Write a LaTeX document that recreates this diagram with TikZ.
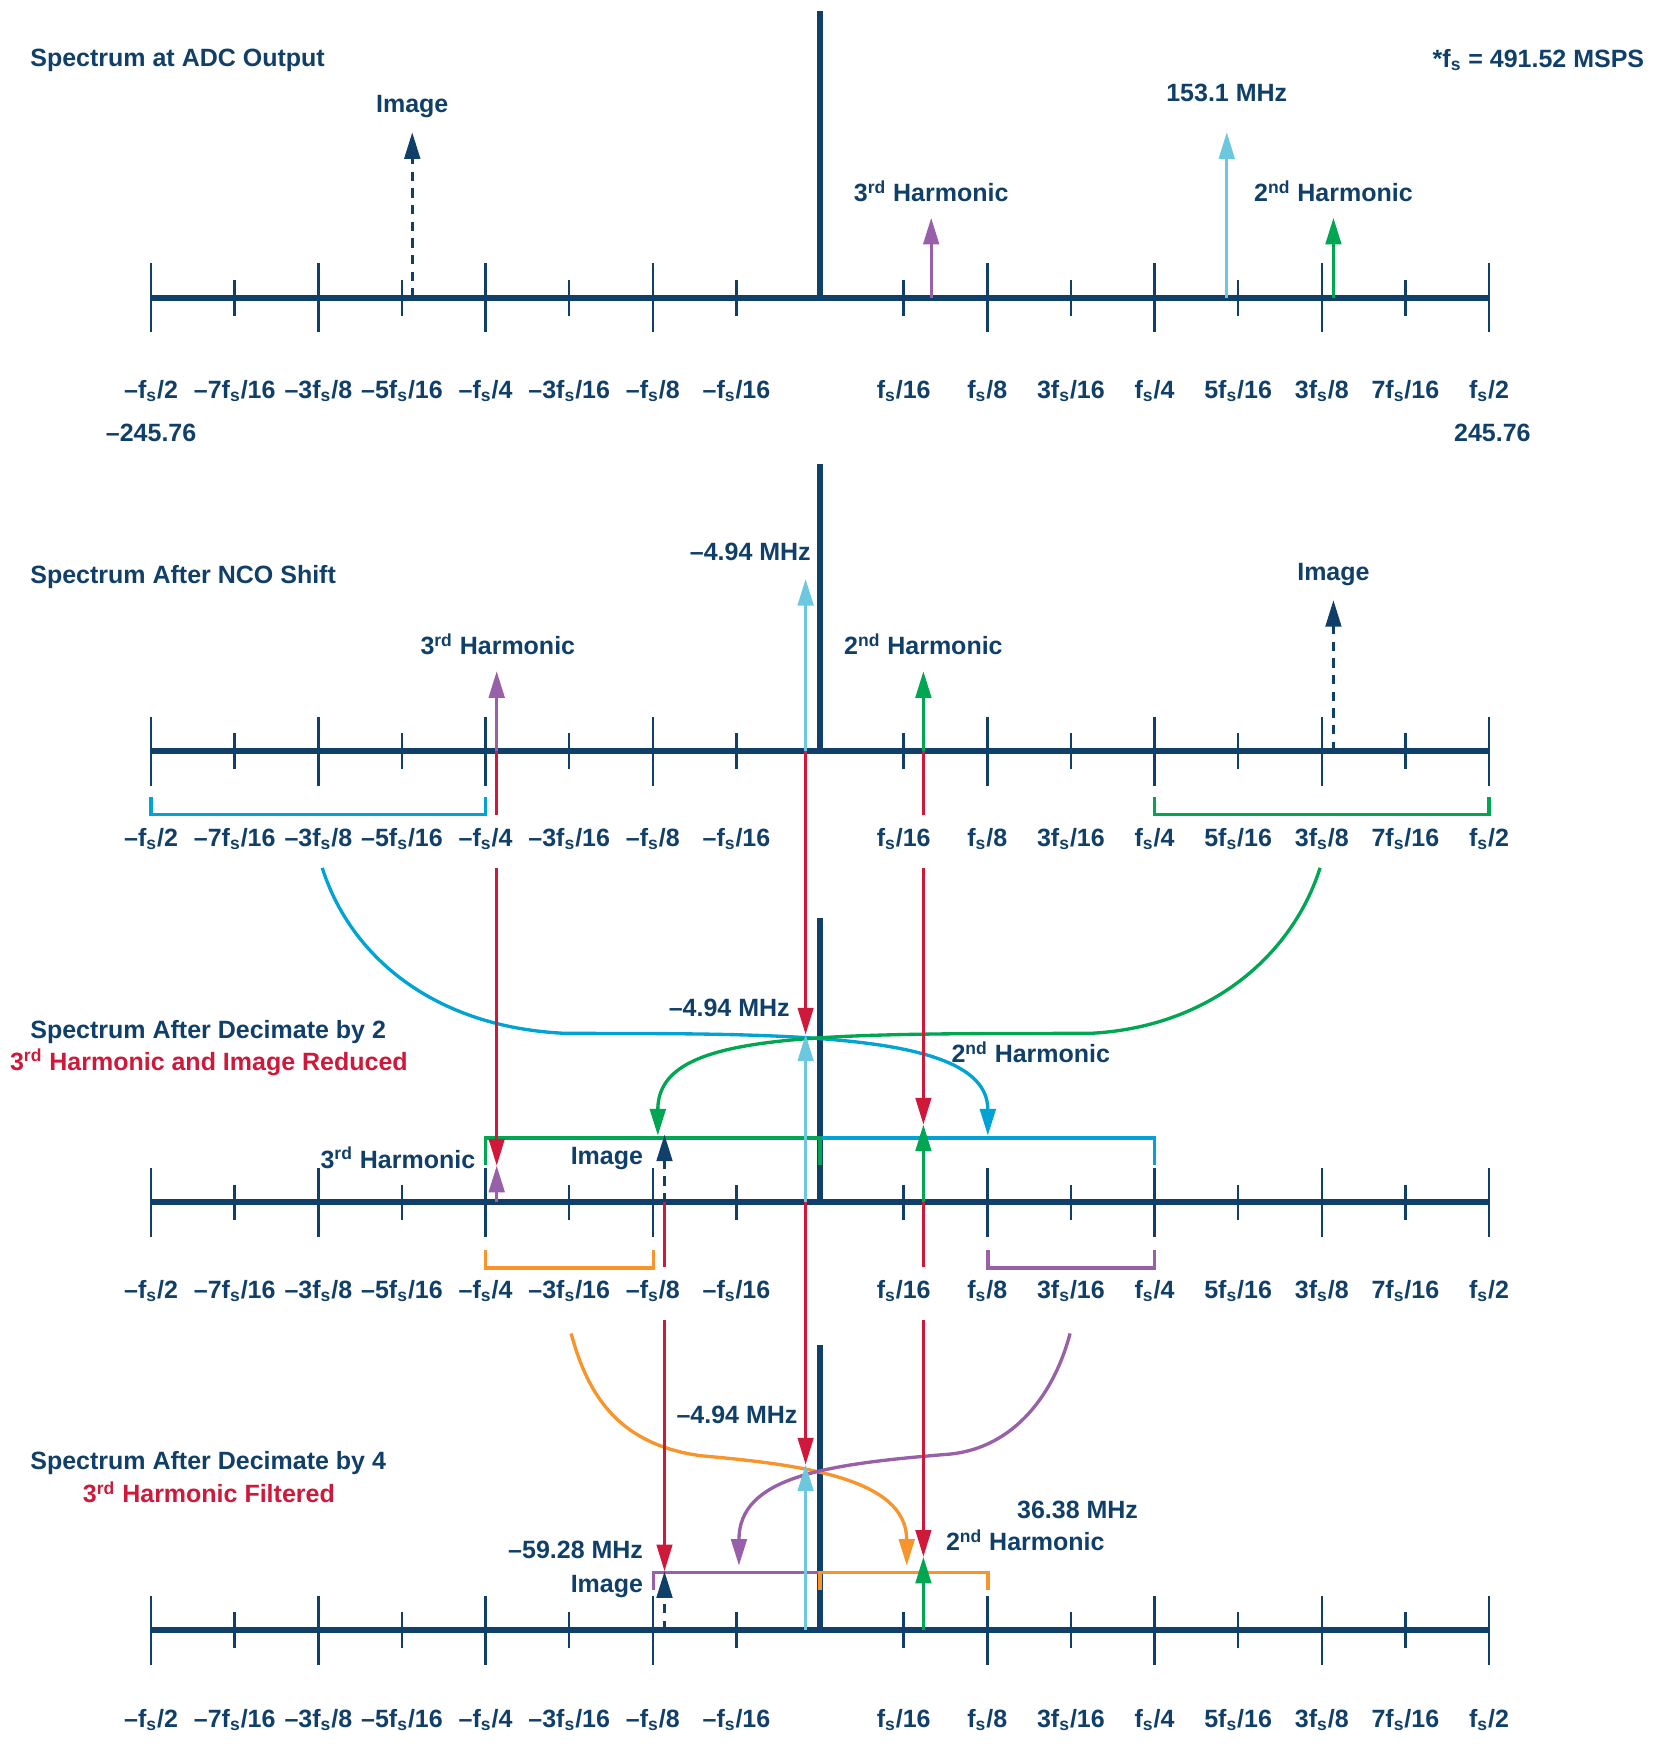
\documentclass[tikz,border=0pt]{standalone}
\usepackage{fontspec}
\setmainfont{Liberation Sans}
\usetikzlibrary{arrows.meta}

\definecolor{adiblau}{RGB}{16,63,105}
\definecolor{hlila}{RGB}{152,96,168}
\definecolor{hellblau}{RGB}{107,200,222}
\definecolor{hgruen}{RGB}{0,166,81}
\definecolor{hrot}{RGB}{206,25,59}
\definecolor{tuerkis}{RGB}{0,163,212}
\definecolor{horange}{RGB}{247,148,43}

\newcommand{\fsl}{f\textsubscript{s}}

\tikzset{
  txt/.style={inner sep=0pt, text=adiblau, font=\fontsize{12.8}{15}\selectfont\bfseries},
  rottxt/.style={txt, text=hrot},
  achse/.style={draw=adiblau, line width=1.1mm},
  mittellinie/.style={draw=adiblau, line width=0.95mm},
  teilstrich/.style={draw=adiblau, line width=0.45mm},
  pfeil/.style={line width=0.58mm, -{Triangle[length=4.8mm, width=2.8mm]}},
  rotlinie/.style={draw=hrot, line width=0.48mm},
  rotpfeil/.style={rotlinie, -{Triangle[length=4.8mm, width=2.8mm]}},
  gestrichelt/.style={dash pattern=on 1.7mm off 1.3mm},
  klammer/.style={line width=0.6mm},
  bogen/.style={line width=0.6mm, -{Triangle[length=4.8mm, width=2.8mm]}},
}

\begin{document}
\begin{tikzpicture}[x=0.2mm, y=-0.2mm]
    \useasboundingbox (0,0) rectangle (1500,1574);

    % Achsen, Teilstriche und Beschriftung der vier Spektren
    \foreach \p/\y/\ly/\oben in {1/268/352/10, 2/676/755/418, 3/1082/1162/826, 4/1467/1548/1210} {
        \draw[mittellinie] (738,\oben) -- (738,\y);
        \foreach \k in {-8,...,-1,1,2,...,8} {
            \pgfmathsetmacro{\xk}{738+75.25*\k}
            \pgfmathsetmacro{\hoehe}{mod(abs(\k),2)==1 ? 16 : 31}
            \draw[teilstrich] (\xk,\y-\hoehe) -- (\xk,\y+\hoehe);
        }
        \draw[achse] (136,\y) -- (1340,\y);
        \foreach \k/\lbl in {-8/{–\fsl/2}, -7/{–7\fsl/16}, -6/{–3\fsl/8}, -5/{–5\fsl/16}, -4/{–\fsl/4}, -3/{–3\fsl/16}, -2/{–\fsl/8}, -1/{–\fsl/16}, 1/{\fsl/16}, 2/{\fsl/8}, 3/{3\fsl/16}, 4/{\fsl/4}, 5/{5\fsl/16}, 6/{3\fsl/8}, 7/{7\fsl/16}, 8/{\fsl/2}}
            \node[txt] (lab\p\k) at ({738+75.25*\k},\ly) {\lbl};
    }

    % Klammern der Nyquist-Zonen
    \draw[klammer, tuerkis] (136,717) -- (136,733) -- (437,733) -- (437,717);
    \draw[klammer, hgruen] (1039,717) -- (1039,733) -- (1340,733) -- (1340,717);
    \draw[klammer, tuerkis] (738,1024) -- (1039,1024) -- (1039,1048);
    \draw[klammer, hgruen] (437,1048) -- (437,1024) -- (738,1024) -- (738,1048);
    \draw[klammer, horange] (437,1125) -- (437,1141) -- (588,1141) -- (588,1125);
    \draw[klammer, hlila] (889,1125) -- (889,1141) -- (1039,1141) -- (1039,1125);
    \draw[klammer, hlila] (588,1431) -- (588,1415) -- (738,1415) -- (738,1431);
    \draw[klammer, horange] (738,1431) -- (738,1415) -- (889,1415) -- (889,1431);

    % Spektrum am ADC-Ausgang
    \node[txt, anchor=west] (tit1) at (27,54) {Spectrum at ADC Output};
    \node[txt, anchor=east] (abtast) at (1480,54) {*\fsl{} = 491.52 MSPS};
    \node[txt] (min1) at (136,390) {–245.76};
    \node[txt] (max1) at (1343,390) {245.76};
    \node[txt] (iml1) at (371,96) {Image};
    \node[txt] (h3l1) at (838,172) {3\textsuperscript{rd} Harmonic};
    \node[txt] (mhz1) at (1104,84) {153.1 MHz};
    \node[txt] (h2l1) at (1200,172) {2\textsuperscript{nd} Harmonic};
    \foreach \n/\x/\z/\farbe/\art in {img1/371/119/adiblau/gestrichelt, h31/838/196/hlila/solid, sig1/1104/119/hellblau/solid, h21/1200/196/hgruen/solid} {
        \coordinate (u\n) at (\x,268);
        \coordinate (o\n) at (\x,\z);
        \draw[pfeil, \farbe, \art] (u\n) -- (o\n);
    }

    % Spektrum nach der NCO-Verschiebung
    \node[txt, anchor=west] (tit2) at (27,519) {Spectrum After NCO Shift};
    \node[txt, anchor=east] (mhz2) at (730,497) {–4.94 MHz};
    \node[txt] (h3l2) at (448,580) {3\textsuperscript{rd} Harmonic};
    \node[txt] (h2l2) at (831,580) {2\textsuperscript{nd} Harmonic};
    \node[txt] (iml2) at (1200,517) {Image};
    \foreach \n/\x/\z/\farbe/\art in {img2/1200/540/adiblau/gestrichelt, h32/447/604/hlila/solid, sig2/725/521/hellblau/solid, h22/831/604/hgruen/solid} {
        \coordinate (u\n) at (\x,676);
        \coordinate (o\n) at (\x,\z);
    }

    % Spektrum nach Dezimation um 2
    \node[txt, anchor=west] (tit3) at (27,929) {Spectrum After Decimate by 2};
    \node[rottxt] (sub3) at (188,956) {3\textsuperscript{rd} Harmonic and Image Reduced};
    \node[txt, anchor=east] (mhz3) at (711,907) {–4.94 MHz};
    \node[txt, anchor=east] (h3l3) at (428,1042) {3\textsuperscript{rd} Harmonic};
    \node[txt, anchor=east] (iml3) at (579,1043) {Image};
    \node[txt, anchor=west] (h2l3) at (856,947) {2\textsuperscript{nd} Harmonic};
    \foreach \n/\x/\z in {img3/598/1021, h33/447/1049, sig3/725/931, h23/831/1012} {
        \coordinate (u\n) at (\x,1082);
        \coordinate (o\n) at (\x,\z);
    }

    % Spektrum nach Dezimation um 4
    \node[txt, anchor=west] (tit4) at (27,1317) {Spectrum After Decimate by 4};
    \node[rottxt] (sub4) at (188,1343) {3\textsuperscript{rd} Harmonic Filtered};
    \node[txt, anchor=east] (mhz4) at (718,1273) {–4.94 MHz};
    \node[txt, anchor=east] (mhz4b) at (579,1395) {–59.28 MHz};
    \node[txt, anchor=east] (iml4) at (579,1428) {Image};
    \node[txt, anchor=west] (mhz4c) at (915,1359) {36.38 MHz};
    \node[txt, anchor=west] (h2l4) at (851,1386) {2\textsuperscript{nd} Harmonic};
    \foreach \n/\x/\z in {img4/598/1414, sig4/725/1318, h24/831/1401} {
        \coordinate (u\n) at (\x,1467);
        \coordinate (o\n) at (\x,\z);
    }

    % Faltung der Zonen (Boegen)
    \coordinate (ta) at (290,781); \coordinate (te) at (889,1022);
    \coordinate (ga) at (1188,781); \coordinate (ge) at (592,1022);
    \coordinate (oa) at (514,1200); \coordinate (oe) at (816,1409);
    \coordinate (la) at (963,1200); \coordinate (le) at (665,1409);
    \draw[bogen, tuerkis] (ta) .. controls (315,860) and (390,925) .. (510,930) .. controls (720,930) and (889,930) .. (te);
    \draw[bogen, hgruen] (ga) .. controls (1163,860) and (1088,925) .. (980,930) .. controls (720,930) and (592,930) .. (ge);
    \draw[bogen, horange] (oa) .. controls (530,1260) and (560,1300) .. (630,1310) .. controls (720,1318) and (816,1330) .. (oe);
    \draw[bogen, hlila] (la) .. controls (950,1250) and (915,1305) .. (850,1309) .. controls (740,1318) and (665,1330) .. (le);

    % Rote Linien von Spektrum zu Spektrum
    \coordinate (r1) at (447,733); \coordinate (r2) at (447,781);
    \coordinate (r3) at (831,733); \coordinate (r4) at (831,781);
    \coordinate (r5) at (598,1140); \coordinate (r6) at (598,1188);
    \coordinate (r7) at (831,1140); \coordinate (r8) at (831,1188);
    \draw[rotlinie] (uh32) -- (r1);
    \draw[rotpfeil] (r2) -- (oh33);
    \draw[rotpfeil] (usig2) -- (osig3);
    \draw[rotlinie] (uh22) -- (r3);
    \draw[rotpfeil] (r4) -- (oh23);
    \draw[rotlinie] (uimg3) -- (r5);
    \draw[rotpfeil] (r6) -- (oimg4);
    \draw[rotpfeil] (usig3) -- (osig4);
    \draw[rotlinie] (uh23) -- (r7);
    \draw[rotpfeil] (r8) -- (oh24);

    % Signalpfeile der unteren drei Spektren
    \draw[pfeil, adiblau, gestrichelt] (uimg2) -- (oimg2);
    \draw[pfeil, hlila] (uh32) -- (oh32);
    \draw[pfeil, hellblau] (usig2) -- (osig2);
    \draw[pfeil, hgruen] (uh22) -- (oh22);
    \draw[pfeil, adiblau, gestrichelt] (uimg3) -- (oimg3);
    \draw[pfeil, hlila] (uh33) -- (oh33);
    \draw[pfeil, hellblau] (usig3) -- (osig3);
    \draw[pfeil, hgruen] (uh23) -- (oh23);
    \draw[pfeil, adiblau, gestrichelt] (uimg4) -- (oimg4);
    \draw[pfeil, hellblau] (usig4) -- (osig4);
    \draw[pfeil, hgruen] (uh24) -- (oh24);
\end{tikzpicture}
\end{document}
